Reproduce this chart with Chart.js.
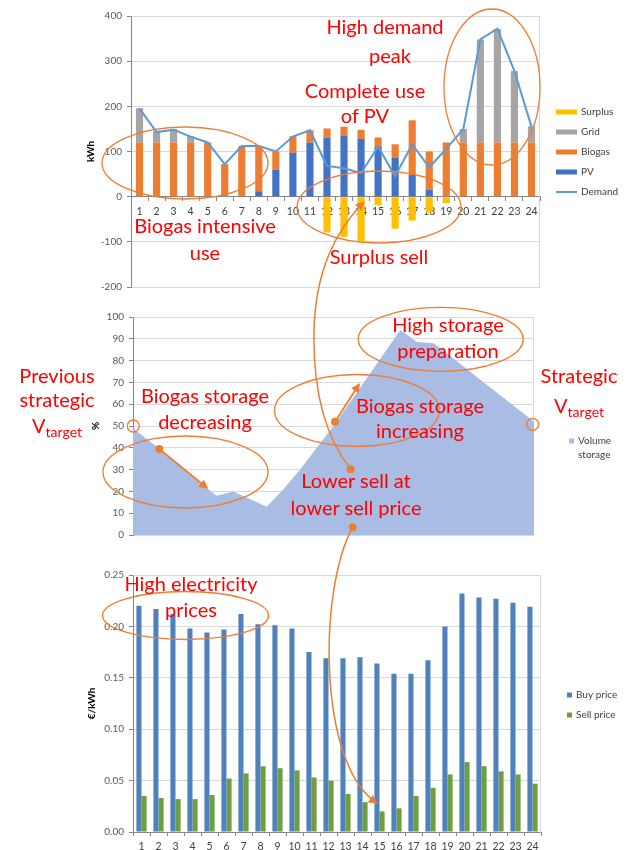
<!DOCTYPE html>
<html><head><meta charset="utf-8">
<script src="https://cdn.jsdelivr.net/npm/chart.js@4"></script>
<style>
html,body{margin:0;padding:0;background:#fff;}
#wrap{position:relative;width:629px;height:850px;overflow:hidden;background:#fff;}
canvas{position:absolute;left:0;}
#c1{top:0;width:629px;height:300px;}
#c2{top:300px;width:629px;height:260px;}
#c3{top:560px;width:629px;height:290px;}
#ann{position:absolute;left:0;top:0;pointer-events:none;}
#ann text{font-family:Lato,"Open Sans",sans-serif;font-size:20px;fill:#ff0000;}
</style></head><body>
<div id="wrap">
<canvas id="c1" width="629" height="300"></canvas>
<canvas id="c2" width="629" height="260"></canvas>
<canvas id="c3" width="629" height="290"></canvas>
<svg id="ann" width="629" height="850" xmlns="http://www.w3.org/2000/svg">
<defs>
<marker id="ah" viewBox="0 0 10 10" refX="9" refY="5" markerWidth="9" markerHeight="9" markerUnits="userSpaceOnUse" orient="auto"><path d="M0,0 L10,5 L0,10 z" fill="#ed7d31"/></marker>
</defs>
<g fill="none" stroke="#ed7d31" stroke-width="1.3">
<ellipse cx="185" cy="163" rx="83" ry="36"/>
<ellipse cx="379" cy="207" rx="82" ry="36"/>
<ellipse cx="492" cy="87" rx="48" ry="78"/>
<ellipse cx="185.5" cy="472" rx="82.5" ry="36"/>
<ellipse cx="357" cy="410.5" rx="82.5" ry="36"/>
<ellipse cx="440.7" cy="339.3" rx="82.5" ry="32"/>
<ellipse cx="185.5" cy="615.5" rx="83" ry="24"/>
<circle cx="133.3" cy="426" r="6"/>
<circle cx="532.7" cy="424.3" r="6"/>
<path d="M159.3,449 L207.3,488.3" stroke-width="1.8" marker-end="url(#ah)"/>
<path d="M335,421.7 L359.3,384" stroke-width="1.8" marker-end="url(#ah)"/>
<path d="M350.7,469.3 Q312,420 314,330 Q316,250 364,202" stroke-width="1.5" marker-end="url(#ah)"/>
<path d="M352.7,527.3 C318,590 318,765 377,803" stroke-width="1.5" marker-end="url(#ah)"/>
</g>
<g fill="#ed7d31">
<circle cx="159.3" cy="449" r="4"/>
<circle cx="335" cy="421.7" r="4"/>
<circle cx="350.7" cy="469.3" r="4"/>
<circle cx="352.7" cy="527.3" r="4"/>
</g>
<g text-anchor="middle" dominant-baseline="central">
<text x="385" y="26">High demand</text>
<text x="390" y="55">peak</text>
<text x="365" y="90">Complete use</text>
<text x="365" y="115">of PV</text>
<text x="205" y="225">Biogas intensive</text>
<text x="205" y="252">use</text>
<text x="379" y="256">Surplus sell</text>
<text x="57" y="375">Previous</text>
<text x="57" y="399">strategic</text>
<text x="57" y="425"><tspan>V</tspan><tspan font-size="14" dy="6">target</tspan></text>
<text x="205" y="395">Biogas storage</text>
<text x="205" y="421">decreasing</text>
<text x="420" y="405">Biogas storage</text>
<text x="420" y="430">increasing</text>
<text x="448" y="324">High storage</text>
<text x="448" y="350">preparation</text>
<text x="356" y="480">Lower sell at</text>
<text x="356" y="507">lower sell price</text>
<text x="579" y="375">Strategic</text>
<text x="579" y="405"><tspan>V</tspan><tspan font-size="14" dy="6">target</tspan></text>
<text x="191" y="583">High electricity</text>
<text x="191" y="609">prices</text>
</g>
</svg>
</div>
<script>
// ---------- data ----------
const hours = ['1','2','3','4','5','6','7','8','9','10','11','12','13','14','15','16','17','18','19','20','21','22','23','24'];
const pv      = [0,0,0,0,0,0,0,12,60,97,120,131,135,128,110,87,48,15,0,0,0,0,0,0];
const biogas  = [120,120,120,120,120,72,112,100,40,37,27,20,20,20,21,29,121,85,120,120,120,120,120,120];
const gridE   = [76,26,30,14,0,0,0,0,0,0,0,0,0,0,0,0,0,0,0,30,228,251,158,36];
const surplus = [0,0,0,0,0,0,0,0,0,0,0,-79,-89,-98,-19,-71,-53,-35,-14,0,0,0,0,0];
const demand  = [195,143,148,133,120,72,112,112,100,133,147,68,63,52,111,45,116,65,106,150,348,372,278,155];
const kwhTicks = [-200,-100,0,100,200,300,400];

const storageHours = ['0','1','2','3','4','5','6','7','8','9','10','11','12','13','14','15','16','17','18','19','20','21','22','23','24'];
const storage = [49,43,37,30,24,18,20,16.5,13,21,30,40,50,61,72,83,94,88.5,88,82,76,70,64,58,52];
const pctTicks = [0,10,20,30,40,50,60,70,80,90,100];

const buyPrice  = [0.220,0.217,0.212,0.198,0.194,0.197,0.212,0.202,0.201,0.198,0.175,0.169,0.169,0.170,0.164,0.154,0.154,0.167,0.200,0.232,0.228,0.227,0.223,0.219];
const sellPrice = [0.035,0.033,0.032,0.032,0.036,0.052,0.057,0.064,0.062,0.060,0.053,0.050,0.037,0.029,0.020,0.023,0.035,0.043,0.056,0.068,0.064,0.059,0.056,0.047];
const priceTicks = [0,0.05,0.10,0.15,0.20,0.25];

// ---------- helpers ----------
Chart.defaults.font.family = 'Lato, "Open Sans", sans-serif';
Chart.defaults.font.size = 10;
Chart.defaults.color = '#595959';
Chart.defaults.animation = false;

function fixedTicks(arr){ return function(scale){ scale.ticks = arr.map(v => ({value: v})); }; }

const plotBorder = {
  id: 'plotBorder',
  beforeDatasetsDraw(chart){
    const {ctx, chartArea: a} = chart;
    const l = Math.round(a.left)+0.5, r = Math.round(a.right)-0.5, t = Math.round(a.top)+0.5, b = Math.round(a.bottom)+0.5;
    ctx.save(); ctx.strokeStyle = '#d9d9d9'; ctx.lineWidth = 1;
    ctx.beginPath(); ctx.moveTo(l, t); ctx.lineTo(r, t); ctx.lineTo(r, b); ctx.stroke();
    ctx.restore();
  }
};

const sideLegend = {
  id: 'sideLegend',
  afterDraw(chart, args, o){
    if (!o || !o.items) return;
    const ctx = chart.ctx;
    ctx.save();
    ctx.font = '10px Lato, "Open Sans", sans-serif';
    ctx.textBaseline = 'middle';
    o.items.forEach((it, i) => {
      const ds = chart.data.datasets[it.index];
      const y = o.y + i * o.dy;
      if (it.kind === 'line') {
        ctx.strokeStyle = ds.borderColor; ctx.lineWidth = 2;
        ctx.beginPath(); ctx.moveTo(o.x, y); ctx.lineTo(o.x + o.w, y); ctx.stroke();
      } else {
        ctx.fillStyle = ds.backgroundColor;
        ctx.fillRect(o.x, y - o.h/2, o.w, o.h);
      }
      ctx.fillStyle = '#404040';
      const lines = it.text;
      lines.forEach((t, j) => ctx.fillText(t, o.x + o.w + o.gap, y + j * 14));
    });
    ctx.restore();
  }
};

const yTitleFont = {weight: 'bold', size: 10};

// ---------- chart 1: energy balance ----------
new Chart(document.getElementById('c1'), {
  type: 'bar',
  data: {
    labels: hours,
    datasets: [
      {label: 'PV', data: pv, backgroundColor: '#4472c4', stack: 's', order: 1},
      {label: 'Biogas', data: biogas, backgroundColor: '#ed7d31', stack: 's', order: 1},
      {label: 'Grid', data: gridE, backgroundColor: '#a5a5a5', stack: 's', order: 1},
      {label: 'Surplus', data: surplus, backgroundColor: '#ffc000', stack: 's', order: 1},
      {type: 'line', label: 'Demand', data: demand, borderColor: '#5b9bd5', backgroundColor: '#5b9bd5', borderWidth: 2, pointRadius: 0, tension: 0, fill: false, stack: 'd', order: 0}
    ]
  },
  options: {
    responsive: false, animation: false,
    layout: {padding: {left: 0, right: 89, top: 16, bottom: 13}},
    datasets: {bar: {barPercentage: 0.42, categoryPercentage: 1}},
    plugins: {
      legend: {display: false}, tooltip: {enabled: false},
      sideLegend: {x: 556, y: 112, dy: 20, w: 21, h: 5, gap: 4,
        items: [{index: 3, text: ['Surplus']}, {index: 2, text: ['Grid']}, {index: 1, text: ['Biogas']}, {index: 0, text: ['PV']}, {index: 4, kind: 'line', text: ['Demand']}]}
    },
    scales: {
      x: {
        stacked: true, position: {y: 0},
        grid: {display: true, drawOnChartArea: false, drawTicks: true, tickLength: 4, offset: true, color: '#868686'},
        border: {color: '#868686'},
        ticks: {padding: 5, color: '#404040', font: {size: 10.5}, maxRotation: 0, autoSkip: false},
        afterFit(s){ s.height = 0; }
      },
      y: {
        stacked: true, min: -200, max: 400,
        afterBuildTicks: fixedTicks(kwhTicks),
        afterFit(s){ s.width = 131; },
        grid: {color: c => (c.tick && c.tick.value === 0) ? '#868686' : '#d9d9d9', tickLength: 4, tickColor: '#868686'},
        border: {color: '#868686'},
        ticks: {padding: 5},
        title: {display: true, text: 'kWh', color: '#000', font: yTitleFont, padding: {top: 85, bottom: 0}}
      }
    }
  },
  plugins: [plotBorder, sideLegend]
});

// ---------- chart 2: storage ----------
new Chart(document.getElementById('c2'), {
  type: 'line',
  data: {
    labels: storageHours,
    datasets: [{label: 'Volume storage', data: storage, fill: 'origin', backgroundColor: '#a9bde4', borderColor: '#a9bde4', borderWidth: 0, pointRadius: 0, tension: 0}]
  },
  options: {
    responsive: false, animation: false,
    layout: {padding: {left: 0, right: 95, top: 17, bottom: 25}},
    plugins: {
      legend: {display: false}, tooltip: {enabled: false},
      sideLegend: {x: 569, y: 141, dy: 20, w: 5, h: 5, gap: 4, items: [{index: 0, text: ['Volume', 'storage']}]}
    },
    scales: {
      x: {display: false, offset: false},
      y: {
        min: 0, max: 100,
        afterBuildTicks: fixedTicks(pctTicks),
        afterFit(s){ s.width = 133; },
        grid: {color: '#d9d9d9', tickLength: 4, tickColor: '#868686'},
        border: {color: '#868686'},
        ticks: {padding: 5},
        title: {display: true, text: '%', color: '#000', font: yTitleFont, padding: {top: 90, bottom: 0}}
      }
    }
  },
  plugins: [plotBorder, sideLegend]
});

// ---------- chart 3: prices ----------
new Chart(document.getElementById('c3'), {
  type: 'bar',
  data: {
    labels: hours,
    datasets: [
      {label: 'Buy price', data: buyPrice, backgroundColor: '#4f81bd'},
      {label: 'Sell price', data: sellPrice, backgroundColor: '#6f9e3f'}
    ]
  },
  options: {
    responsive: false, animation: false,
    layout: {padding: {left: 0, right: 88, top: 15, bottom: 0}},
    datasets: {bar: {barPercentage: 1, categoryPercentage: 0.6}},
    plugins: {
      legend: {display: false}, tooltip: {enabled: false},
      sideLegend: {x: 567, y: 135, dy: 20, w: 5, h: 5, gap: 4, items: [{index: 0, text: ['Buy price']}, {index: 1, text: ['Sell price']}]}
    },
    scales: {
      x: {
        grid: {display: true, drawOnChartArea: false, drawTicks: true, tickLength: 4, offset: true, color: '#868686'},
        border: {color: '#868686'},
        ticks: {padding: 4, color: '#404040', font: {size: 10.5}, maxRotation: 0, autoSkip: false},
        afterFit(s){ s.height = 18; }
      },
      y: {
        min: 0, max: 0.25,
        afterBuildTicks: fixedTicks(priceTicks),
        afterFit(s){ s.width = 133; },
        grid: {color: '#d9d9d9', tickLength: 4, tickColor: '#868686'},
        border: {color: '#868686'},
        ticks: {padding: 5, callback: v => Number(v).toFixed(2)},
        title: {display: true, text: '€/kWh', color: '#000', font: yTitleFont, padding: {top: 86, bottom: 0}}
      }
    }
  },
  plugins: [plotBorder, sideLegend]
});
</script>
</body></html>
